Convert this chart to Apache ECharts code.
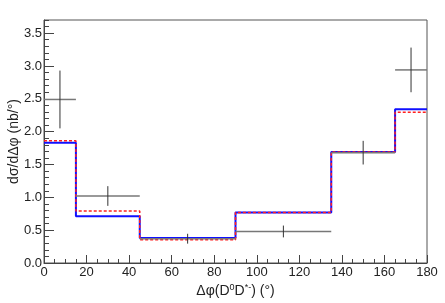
<!DOCTYPE html>
<html><head><meta charset="utf-8">
<script src="https://cdn.jsdelivr.net/npm/echarts@6/dist/echarts.min.js"></script>
<style>html,body{margin:0;padding:0;background:#fff}#c{width:445px;height:303px}</style>
</head><body><div id="c"></div>
<script>
var binEdges = [0, 15, 45, 90, 135, 165, 180];
var dataY = [2.49, 1.02, 0.37, 0.48, 1.68, 2.94];
var dataErr = [0.44, 0.15, 0.075, 0.09, 0.18, 0.34];
var blueHist = [1.83, 0.71, 0.38, 0.77, 1.69, 2.34];
var redHist = [1.86, 0.79, 0.355, 0.77, 1.69, 2.295];
var xTicks = [0, 20, 40, 60, 80, 100, 120, 140, 160, 180];
var yTicks = ['0.0', '0.5', '1.0', '1.5', '2.0', '2.5', '3.0', '3.5'];

function stepData(vals) {
  var d = [];
  for (var i = 0; i < vals.length; i++) d.push([binEdges[i], vals[i]]);
  d.push([binEdges[binEdges.length - 1], vals[vals.length - 1]]);
  return d;
}
var points = [];
for (var i = 0; i < dataY.length; i++) {
  points.push([(binEdges[i] + binEdges[i + 1]) / 2, dataY[i], dataErr[i], binEdges[i], binEdges[i + 1]]);
}
var font = 'Liberation Sans, Arial, sans-serif';
var chart = echarts.init(document.getElementById('c'), null, {renderer: 'canvas'});
chart.setOption({
  animation: false,
  backgroundColor: '#fff',
  grid: {left: 44, right: 18, top: 20, bottom: 40, containLabel: false, outerBoundsMode: 'none',
    show: true, borderColor: '#555', borderWidth: 1, backgroundColor: 'transparent'},
  xAxis: [{
    type: 'value', min: 0, max: 180, interval: 20,
    axisLine: {show: true, onZero: false, lineStyle: {color: '#444', width: 1}},
    axisTick: {show: true, inside: true, length: 8, lineStyle: {color: '#444'}},
    minorTick: {show: true, splitNumber: 4, length: 4, lineStyle: {color: '#444'}},
    splitLine: {show: false},
    axisLabel: {color: '#222', fontFamily: font, fontSize: 13, margin: 3,
      formatter: function (v) { return xTicks.indexOf(v) >= 0 ? String(v) : ''; }},
    name: 'Δφ(D{sup|0}D{sup|*-}) (°)',
    nameLocation: 'middle', nameGap: 20, nameMoveOverlap: false,
    nameTextStyle: {color: '#222', fontFamily: font, fontSize: 14, lineHeight: 16,
      rich: {sup: {fontSize: 9, fontFamily: font, color: '#222', verticalAlign: 'top', lineHeight: 8}}}
  }],
  yAxis: [{
    type: 'value', min: 0, max: 3.7, interval: 0.5,
    axisLine: {show: true, onZero: false, lineStyle: {color: '#444', width: 1}},
    axisTick: {show: true, inside: true, length: 10, lineStyle: {color: '#444'}},
    splitLine: {show: false},
    axisLabel: {color: '#222', fontFamily: font, fontSize: 13, margin: 2, showMaxLabel: false,
      formatter: function (v) { var s = v.toFixed(1); return yTicks.indexOf(s) >= 0 ? s : ''; }},
    name: 'dσ/dΔφ (nb/°)', nameLocation: 'middle', nameGap: 23, nameRotate: 90, nameMoveOverlap: false,
    nameTextStyle: {color: '#222', fontFamily: font, fontSize: 14}
  }, {
    type: 'value', min: 0, max: 3.7, interval: 0.1, position: 'left', offset: 0,
    axisLine: {show: false},
    axisTick: {show: true, inside: true, length: 5, lineStyle: {color: '#444'}},
    axisLabel: {show: false}, splitLine: {show: false}
  }],
  series: [{
    type: 'line', step: 'end', data: stepData(blueHist), symbol: 'none',
    lineStyle: {color: '#1010ff', width: 2}, z: 2
  }, {
    type: 'line', step: 'end', data: stepData(redHist), symbol: 'none',
    lineStyle: {color: '#ff2020', width: 1.5, type: [3, 2]}, z: 3
  }, {
    type: 'custom', data: points, z: 4,
    renderItem: function (params, api) {
      var y = api.value(1), e = api.value(2), x = api.value(0);
      var pL = api.coord([api.value(3), y]);
      var pR = api.coord([api.value(4), y]);
      var pT = api.coord([x, y + e]);
      var pB = api.coord([x, y - e]);
      return {type: 'group', children: [
        {type: 'line', shape: {x1: pL[0], y1: pL[1], x2: pR[0], y2: pR[1]}, style: {stroke: '#777', lineWidth: 1.5}},
        {type: 'line', shape: {x1: pT[0], y1: pT[1], x2: pB[0], y2: pB[1]}, style: {stroke: '#333', lineWidth: 1}}
      ]};
    }
  }]
});
</script></body></html>
